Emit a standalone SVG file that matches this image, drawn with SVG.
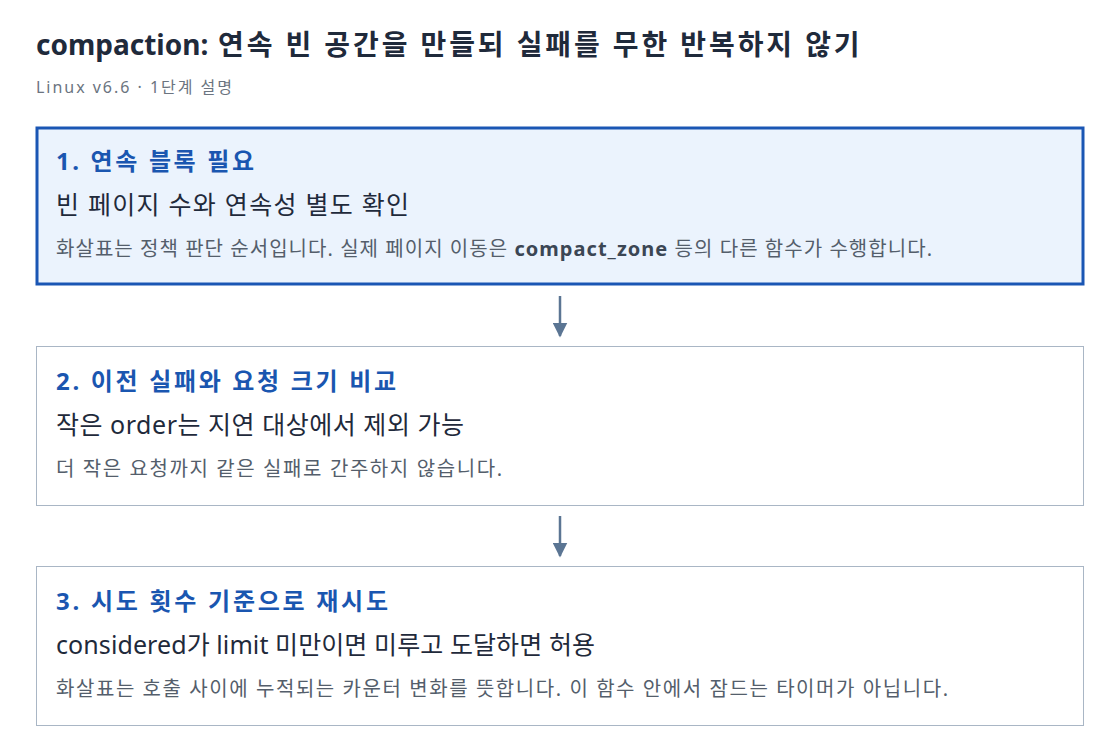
<svg xmlns="http://www.w3.org/2000/svg" width="1120" height="754" viewBox="0 0 1120 754">
<style>
.t{font-family:"Noto Sans","Noto Sans CJK KR",sans-serif}
.title{font-size:28px;font-weight:700;fill:#1f2a3b}
.kt{letter-spacing:2.9px}
.sub{font-size:16px;fill:#6b7480}
.h{font-size:24px;font-weight:700;fill:#1a56b0}
.l2{font-size:25px;fill:#1f2a3b}
.l3{font-size:20px;fill:#545e6b}
.code{font-weight:700;fill:#3b4654}
.active{fill:#ebf3fd;stroke:#1a56b4;stroke-width:3}
.box{fill:#ffffff;stroke:#a9b6c5;stroke-width:1}
.conn{stroke:#5b7593;stroke-width:2.5;fill:none}
</style>
<defs>
<marker id="arr" viewBox="0 0 10 10" refX="9" refY="5" markerWidth="6" markerHeight="6" orient="auto" markerUnits="strokeWidth">
<path d="M0,0 L10,5 L0,10 z" fill="#5b7593"/>
</marker>
</defs>
<rect width="1120" height="754" fill="#ffffff"/>
<text class="t title" x="36" y="55">compaction: <tspan class="kt" x="218">연속 빈 공간을 만들되 실패를 무한 반복하지 않기</tspan></text>
<text class="t sub" x="36" y="93" textLength="196" lengthAdjust="spacing">Linux v6.6 · 1단계 설명</text>
<g id="connectors">
<line class="conn" x1="560" y1="296" x2="560" y2="336" marker-end="url(#arr)"/>
<line class="conn" x1="560" y1="516" x2="560" y2="556" marker-end="url(#arr)"/>
</g>
<g id="step1">
<rect class="active" x="37" y="128" width="1046" height="156"/>
<text class="t h" x="56" y="170" textLength="198" lengthAdjust="spacing">1. 연속 블록 필요</text>
<text class="t l2" x="56" y="214" textLength="353" lengthAdjust="spacing">빈 페이지 수와 연속성 별도 확인</text>
<text class="t l3" x="56" y="256" textLength="876" lengthAdjust="spacing">화살표는 정책 판단 순서입니다. 실제 페이지 이동은 <tspan class="code">compact_zone</tspan> 등의 다른 함수가 수행합니다.</text>
</g>
<g id="step2">
<rect class="box" x="36.5" y="346.5" width="1047" height="159"/>
<text class="t h" x="56" y="390" textLength="340" lengthAdjust="spacing">2. 이전 실패와 요청 크기 비교</text>
<text class="t l2" x="56" y="434" textLength="408" lengthAdjust="spacing">작은 order는 지연 대상에서 제외 가능</text>
<text class="t l3" x="56" y="476" textLength="446" lengthAdjust="spacing">더 작은 요청까지 같은 실패로 간주하지 않습니다.</text>
</g>
<g id="step3">
<rect class="box" x="36.5" y="566.5" width="1047" height="159"/>
<text class="t h" x="56" y="610" textLength="332" lengthAdjust="spacing">3. 시도 횟수 기준으로 재시도</text>
<text class="t l2" x="56" y="654" textLength="539" lengthAdjust="spacing">considered가 limit 미만이면 미루고 도달하면 허용</text>
<text class="t l3" x="56" y="696" textLength="892" lengthAdjust="spacing">화살표는 호출 사이에 누적되는 카운터 변화를 뜻합니다. 이 함수 안에서 잠드는 타이머가 아닙니다.</text>
</g>
</svg>
